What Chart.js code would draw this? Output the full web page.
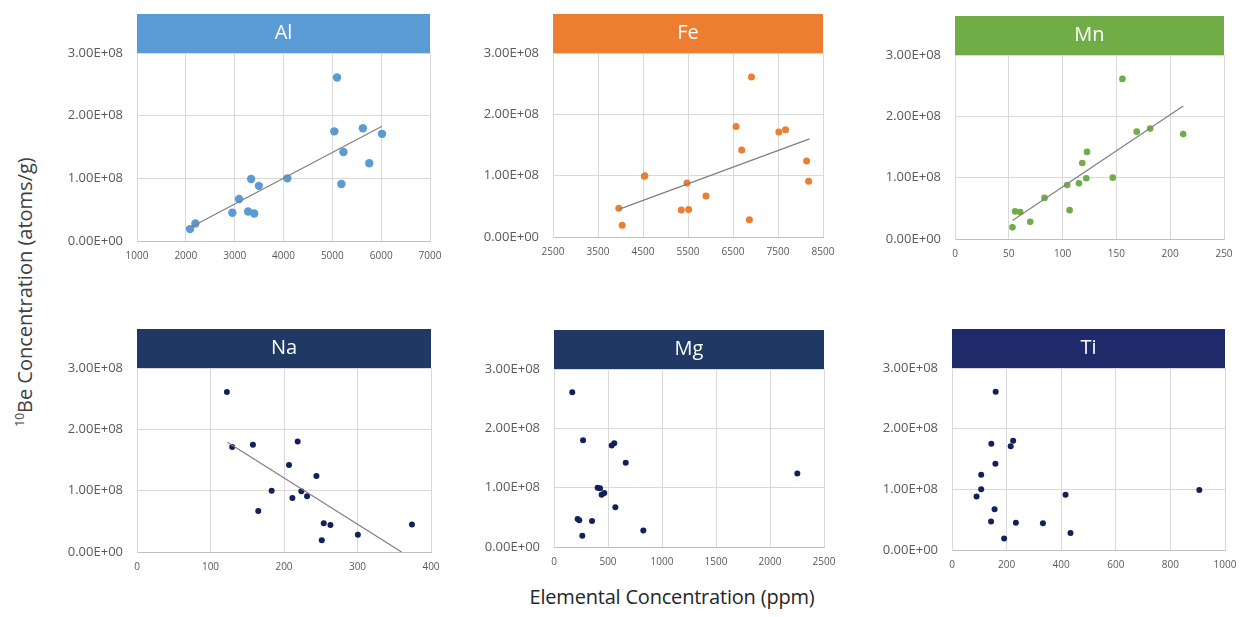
<!DOCTYPE html>
<html>
<head>
<meta charset="utf-8">
<script src="https://cdn.jsdelivr.net/npm/chart.js@4.4.1/dist/chart.umd.min.js"></script>
<style>
  html, body { margin: 0; padding: 0; background: #ffffff; }
  body { width: 1242px; height: 617px; position: relative; overflow: hidden; font-family: "Open Sans", sans-serif; }
  canvas { position: absolute; }
  #ytitle { position: absolute; left: 24px; top: 292px; transform: translate(-50%, -50%) rotate(-90deg); white-space: nowrap; font-size: 20px; color: #404040; }
  #ytitle sup { font-size: 12px; vertical-align: 8px; }
  #xtitle { position: absolute; left: 672px; top: 596px; transform: translate(-50%, -50%); white-space: nowrap; font-size: 20px; color: #262626; letter-spacing: -0.2px; }
</style>
</head>
<body>
<div id="ytitle"><sup>10</sup>Be Concentration (atoms/g)</div>
<div id="xtitle">Elemental Concentration (ppm)</div>
<script>
// ---- data ----
const elements = ['Al', 'Fe', 'Mn', 'Na', 'Mg', 'Ti'];
const yTickLabels = ['0.00E+00', '1.00E+08', '2.00E+08', '3.00E+08'];

// 10Be concentration per sample (atoms/g)
const be10 = [2.61e8, 1.80e8, 1.75e8, 1.71e8, 1.42e8, 1.24e8, 1.00e8, 0.99e8,
              0.91e8, 0.88e8, 0.67e8, 0.47e8, 0.45e8, 0.44e8, 0.28e8, 0.19e8];

// elemental concentration per sample (ppm), same sample order
const alPpm = [5096, 5625, 5041, 6017, 5227, 5756, 4079, 3337, 5186, 3495, 3090, 3275, 2952, 3399, 2196, 2086];
const fePpm = [6910, 6568, 7668, 7519, 6694, 8135, 4541, 4530, 8180, 5477, 5900, 3962, 5514, 5351, 6865, 4037];
const mnPpm = [155.6, 181.4, 168.9, 212.1, 122.7, 118.3, 146.6, 122.0, 115.2, 104.3, 83.2, 106.5, 55.9, 60.6, 69.9, 53.4];
const naPpm = [122.3, 218.6, 157.7, 129.5, 206.8, 244.1, 183.2, 223.6, 231.4, 211.4, 165.0, 254.1, 374.1, 263.2, 300.5, 251.4];
const mgPpm = [169, 269, 558, 534, 664, 2253, 404, 426, 466, 441, 568, 219, 234, 352, 827, 262];
const tiPpm = [160, 224, 144, 215, 159, 107, 107, 906, 416, 90, 156, 143, 234, 333, 434, 191];

// linear trendline end points [x, y]
const alTrend = [[2100, 0.22e8], [6017, 1.83e8]];
const feTrend = [[3962, 0.45e8], [8200, 1.60e8]];
const mnTrend = [[53.4, 0.30e8], [212.1, 2.17e8]];
const naTrend = [[123, 1.79e8], [360, 0]];

// x axis ranges [min, max, step]
const alAxis = [1000, 7000, 1000];
const feAxis = [2500, 8500, 1000];
const mnAxis = [0, 250, 50];
const naAxis = [0, 400, 100];
const mgAxis = [0, 2500, 500];
const tiAxis = [0, 1000, 200];

// ---- styling / layout ----
const panels = [
  { name: elements[0], x: alPpm, trend: alTrend, axis: alAxis, head: '#5B9BD5', dot: '#5B9BD5', r: 4.2, L: 137, R: 430, T: 53,  B: 241 },
  { name: elements[1], x: fePpm, trend: feTrend, axis: feAxis, head: '#ED7D31', dot: '#ED7D31', r: 3.5, L: 553, R: 823, T: 53,  B: 237 },
  { name: elements[2], x: mnPpm, trend: mnTrend, axis: mnAxis, head: '#70AD47', dot: '#70AD47', r: 3.3, L: 955, R: 1224, T: 55, B: 239 },
  { name: elements[3], x: naPpm, trend: naTrend, axis: naAxis, head: '#1F3864', dot: '#12215A', r: 3,   L: 137, R: 431, T: 368, B: 552 },
  { name: elements[4], x: mgPpm, trend: null,    axis: mgAxis, head: '#1F3864', dot: '#12215A', r: 3,   L: 554, R: 824, T: 369, B: 547 },
  { name: elements[5], x: tiPpm, trend: null,    axis: tiAxis, head: '#1F2A6A', dot: '#12215A', r: 3,   L: 952, R: 1225, T: 368, B: 550 }
];

const HEAD_H = 39;
const PAD_L = 90, PAD_R = 16, PAD_T = HEAD_H + 4, PAD_B = 36;

const headerPlugin = {
  id: 'headerBand',
  afterDraw(chart, args, opts) {
    const ca = chart.chartArea;
    const ctx = chart.ctx;
    ctx.save();
    ctx.fillStyle = opts.color;
    ctx.fillRect(ca.left, ca.top - HEAD_H, ca.right - ca.left, HEAD_H);
    ctx.fillStyle = '#ffffff';
    ctx.font = '20px "Open Sans", sans-serif';
    ctx.textAlign = 'center';
    ctx.textBaseline = 'middle';
    ctx.fillText(opts.text, (ca.left + ca.right) / 2, ca.top - HEAD_H / 2);
    ctx.restore();
  }
};

panels.forEach(p => {
  const cv = document.createElement('canvas');
  const w = (p.R - p.L) + PAD_L + PAD_R;
  const h = (p.B - p.T) + PAD_T + PAD_B;
  cv.width = w; cv.height = h;
  cv.style.left = (p.L - PAD_L) + 'px';
  cv.style.top = (p.T - PAD_T) + 'px';
  cv.style.width = w + 'px'; cv.style.height = h + 'px';
  document.body.appendChild(cv);

  const datasets = [{
    type: 'scatter',
    data: p.x.map((v, i) => ({ x: v, y: be10[i] })),
    backgroundColor: p.dot,
    borderColor: p.dot,
    borderWidth: 0,
    pointRadius: p.r,
    pointHoverRadius: p.r,
    order: 2
  }];
  if (p.trend) {
    datasets.push({
      type: 'line',
      data: p.trend.map(t => ({ x: t[0], y: t[1] })),
      borderColor: '#7F7F7F',
      borderWidth: 1.2,
      pointRadius: 0,
      fill: false,
      tension: 0,
      order: 1
    });
  }

  new Chart(cv, {
    type: 'scatter',
    data: { datasets },
    options: {
      responsive: false,
      animation: false,
      devicePixelRatio: 1,
      layout: { padding: { top: PAD_T, right: PAD_R, left: 0, bottom: 0 } },
      plugins: {
        legend: { display: false },
        tooltip: { enabled: false },
        headerBand: { color: p.head, text: p.name }
      },
      scales: {
        x: {
          type: 'linear',
          min: p.axis[0], max: p.axis[1],
          ticks: {
            stepSize: p.axis[2],
            color: '#595959',
            font: { family: '"Open Sans", sans-serif', size: 10 },
            padding: 9,
            maxRotation: 0,
            callback: v => String(v)
          },
          grid: { color: '#D9D9D9', lineWidth: 1, drawTicks: false },
          border: { color: '#BFBFBF', width: 1 },
          afterFit: s => { s.height = PAD_B; s.paddingLeft = 0; s.paddingRight = 0; }
        },
        y: {
          type: 'linear',
          min: 0, max: 3e8,
          ticks: {
            stepSize: 1e8,
            color: '#595959',
            font: { family: '"Open Sans", sans-serif', size: 13 },
            padding: 14,
            callback: v => yTickLabels[Math.round(v / 1e8)]
          },
          grid: { color: '#D9D9D9', lineWidth: 1, drawTicks: false },
          border: { color: '#D9D9D9', width: 1 },
          afterFit: s => { s.width = PAD_L; s.paddingTop = 0; s.paddingBottom = 0; }
        }
      }
    },
    plugins: [headerPlugin]
  });
});
</script>
</body>
</html>
